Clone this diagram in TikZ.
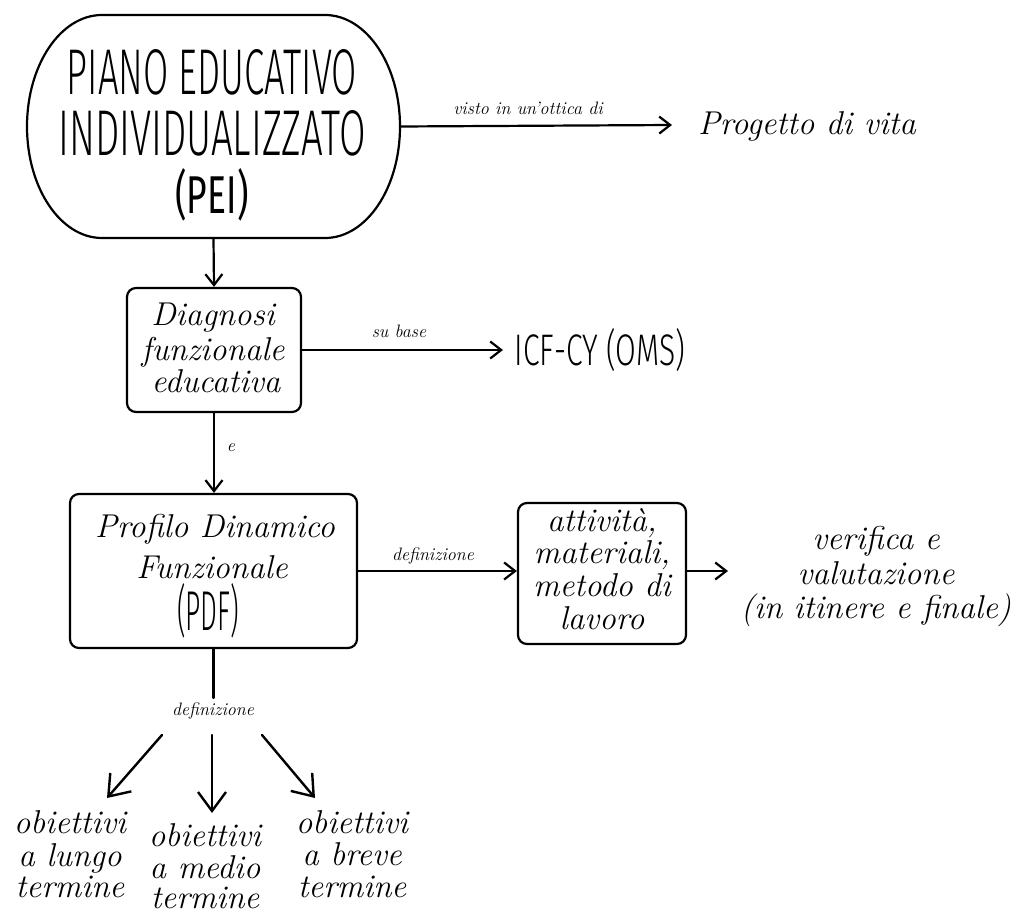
\documentclass[tikz,border=0pt]{standalone}
\usepackage{fontspec}
\usetikzlibrary{arrows.meta}
% light and heavier sans faces for the tall capitals
\IfFontExistsTF{Fira Sans Light}
  {\newfontfamily\capsface{Fira Sans Light}}
  {\newfontfamily\capsface{Latin Modern Sans}}
\IfFontExistsTF{Fira Sans}
  {\newfontfamily\capsheavy{Fira Sans}}
  {\newfontfamily\capsheavy{Latin Modern Sans}}
% capitals squeezed to a given width and height
\newcommand{\capsfit}[3]{\resizebox{#1}{#2}{\capsface #3}}
\newcommand{\capsfitheavy}[3]{\resizebox{#1}{#2}{\capsheavy #3}}
\tikzset{
  ink/.style={line width=2.2pt, line cap=round, line join=round},
  conn/.style={ink, -{Straight Barb[length=11pt,width=17pt]}},
  bigconn/.style={ink, line width=2.4pt, -{Straight Barb[length=19pt,width=28pt]}},
  stepbox/.style={draw, ink, rounded corners=9pt, inner sep=0pt},
  hand/.style={font=\fontsize{33}{33}\selectfont\itshape, inner sep=0pt, anchor=base},
  note/.style={font=\fontsize{18}{18}\selectfont\itshape, inner sep=0pt, anchor=base},
  caps/.style={inner sep=0pt, anchor=base},
}
\begin{document}
\begin{tikzpicture}[x=1pt,y=-1pt]
\useasboundingbox (0,0) rectangle (1028,915);

% --- PEI: rounded outline with elliptic corners
\node[minimum width=373pt, minimum height=223pt, inner sep=0pt] (pei) at (213.5,126.5) {};
\draw[ink] (102,15) -- (325,15)
  .. controls (366.4,15) and (400,64.9) .. (400,126.5)
  .. controls (400,188.1) and (366.4,238) .. (325,238) -- (102,238)
  .. controls (60.6,238) and (27,188.1) .. (27,126.5)
  .. controls (27,64.9) and (60.6,15) .. (102,15) -- cycle;
\node[caps] (pei1) at (212,95) {\capsfit{290pt}{45pt}{PIANO EDUCATIVO}};
\node[caps] (pei2) at (212,155) {\capsfit{307pt}{45pt}{INDIVIDUALIZZATO}};
\node[caps] (pei3) at (212,213) {\capsfitheavy{73pt}{45pt}{(PEI)}};

% --- Progetto di vita
\coordinate (progin) at (672,125);
\node[hand] (prog) at (807,135) {Progetto di vita};
\draw[conn] (pei.east) -- (progin);
\node[note] (l1) at (528,115) {visto in un'ottica di};

% --- Diagnosi funzionale educativa
\node[stepbox, minimum width=174pt, minimum height=124pt] (diag) at (214,350) {};
\node[hand] (d1) at (213,325) {Diagnosi};
\node[hand] (d2) at (213,360) {funzionale};
\node[hand] (d3) at (216,392) {educativa};
\draw[conn] (pei.south) -- (diag.north);

% --- ICF-CY
\coordinate (icfin) at (503,350);
\node[caps] (icf) at (600,365) {\capsfit{170pt}{37pt}{ICF-CY (OMS)}};
\draw[conn] (diag.east) -- (icfin);
\node[note] (l2) at (399,337) {su base};

% --- Profilo Dinamico Funzionale
\node[stepbox, minimum width=287pt, minimum height=154pt] (pdf) at (213.5,571) {};
\node[hand] (p1) at (215,537) {Profilo Dinamico};
\node[hand] (p2) at (212,578) {Funzionale};
\node[caps] (p3) at (208,630) {\capsfit{62pt}{47pt}{(PDF)}};
\draw[conn] (diag.south) -- (diag.south |- pdf.north);
\node[note] (l3) at (231,451) {e};

% --- attivita, materiali, metodo di lavoro
\node[stepbox, minimum width=168pt, minimum height=141pt] (att) at (602,573.5) {};
\node[hand] (a1) at (602,531) {attività,};
\node[hand] (a2) at (602,563) {materiali,};
\node[hand] (a3) at (602,596) {metodo di};
\node[hand] (a4) at (602,629) {lavoro};
\draw[conn] (pdf.east) -- (pdf.east -| att.west);
\node[note] (l4) at (433,560) {definizione};

% --- verifica e valutazione
\coordinate (verin) at (728,571);
\node[hand] (v1) at (876,549) {verifica e};
\node[hand] (v2) at (876,584) {valutazione};
\node[hand] (v3) at (876,618) {(in itinere e finale)};
\draw[conn] (att.east |- pdf.east) -- (verin);

% --- obiettivi
\coordinate (split) at (213.5,698);
\draw[ink] (pdf.south) -- (split);
\node[note] (l5) at (213,715) {definizione};
\coordinate (s1) at (162,735); \coordinate (t1) at (107,798);
\coordinate (s2) at (212,735); \coordinate (t2) at (212,813);
\coordinate (s3) at (262,735); \coordinate (t3) at (315,798);
\draw[bigconn] (s1) -- (t1);
\draw[bigconn] (s2) -- (t2);
\draw[bigconn] (s3) -- (t3);

\node[hand] (o1a) at (70,833) {obiettivi};
\node[hand] (o1b) at (70,866) {a lungo};
\node[hand] (o1c) at (70,897) {termine};
\node[hand] (o2a) at (205,846) {obiettivi};
\node[hand] (o2b) at (205,878) {a medio};
\node[hand] (o2c) at (205,908) {termine};
\node[hand] (o3a) at (352,833) {obiettivi};
\node[hand] (o3b) at (352,865) {a breve};
\node[hand] (o3c) at (352,897) {termine};
\end{tikzpicture}
\end{document}
